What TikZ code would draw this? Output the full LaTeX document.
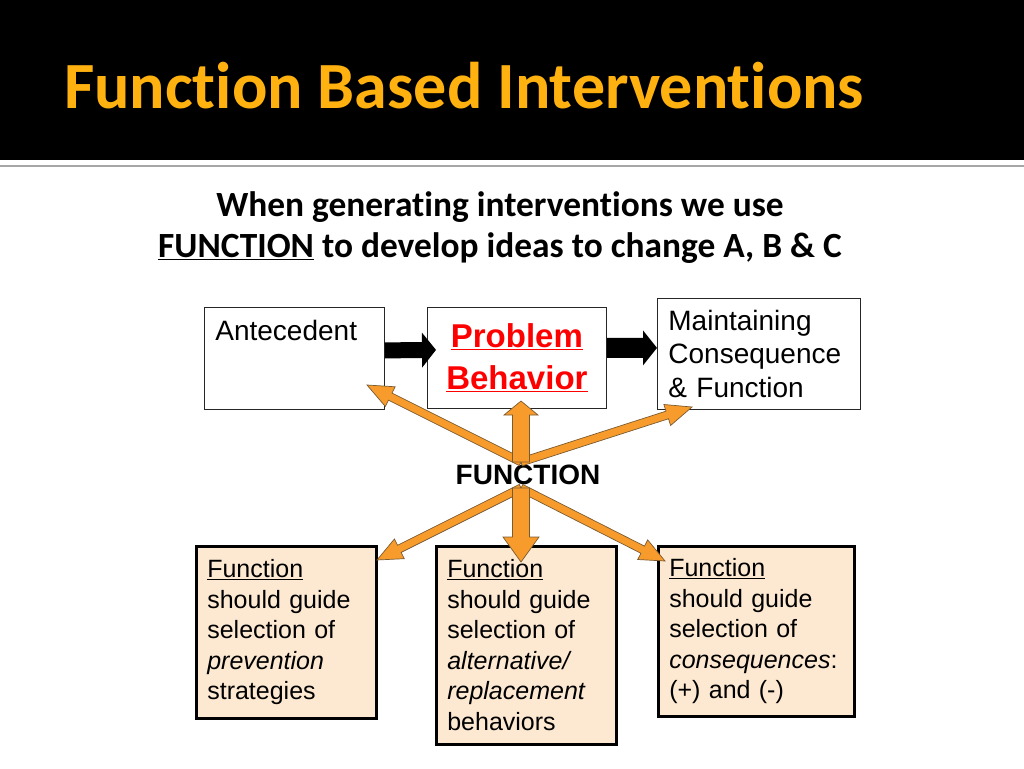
\documentclass[tikz,border=0pt]{standalone}
\usepackage{fontspec}
\setmainfont{Liberation Sans}
\newfontfamily\calibri[Ligatures=NoCommon]{Carlito}
\usetikzlibrary{calc}

\definecolor{titlegold}{HTML}{FFB20F}
\definecolor{fnorange}{HTML}{F79C2C}
\definecolor{fnedge}{HTML}{7A5A30}
\definecolor{peach}{HTML}{FDE9D2}

% block arrow: style, from, to, shaft half width, head half width, head length
\newcommand\blockarrow[6]{%
  \coordinate (ba-h) at ($(#3)!#6!(#2)$);
  \path[#1] ($(#2)!#4!90:(#3)$) -- ($(ba-h)!#4!-90:(#2)$) -- ($(ba-h)!#5!-90:(#2)$) -- (#3)
    -- ($(ba-h)!#5!90:(#2)$) -- ($(ba-h)!#4!90:(#2)$) -- ($(#2)!#4!-90:(#3)$) -- cycle;}

\begin{document}
\begin{tikzpicture}[x=1pt,y=-1pt,
  topbox/.style={draw=black!85,line width=0.8pt,anchor=north west,align=left,
    font=\fontsize{28}{33.5}\selectfont},
  guidebox/.style={draw=black,line width=2.6pt,fill=peach,anchor=north west,align=left,
    inner xsep=11pt,font=\fontsize{25}{30.5}\selectfont},
  orangearrow/.style={fill=fnorange,draw=fnedge,line width=0.7pt,line join=miter}]
  \useasboundingbox (0,0) rectangle (1024,768);
  % title band
  \fill[black] (0,0) rectangle (1024,160);
  \draw[gray!70,line width=2.5pt] (0,166) -- (1024,166);
  \node[anchor=base west,inner sep=0pt,text=titlegold,
    font=\calibri\bfseries\fontsize{66}{78}\selectfont] (title) at (64,108) {Function Based Interventions};
  \node[anchor=north,inner sep=0pt,align=center,
    font=\calibri\bfseries\fontsize{35.4}{41.5}\selectfont] (intro) at (500,191)
    {When generating interventions we use\\\underline{FUNCTION} to develop ideas to change A, B \& C};

  % A - B - C chain
  \node[topbox,text width=158pt,inner xsep=11pt,inner ysep=10pt,text height=23pt,text depth=59pt]
    (ante) at (204,307) {Antecedent};
  \node[topbox,align=center,text width=179pt,inner xsep=0pt,minimum height=101pt,text=red,
    font=\bfseries\fontsize{33}{42}\selectfont] (pb) at (427,307) {\underline{Problem}\\\underline{Behavior}};
  \node[topbox,text width=181pt,inner xsep=11pt,minimum height=111pt]
    (maint) at (657,298) {Maintaining\\Consequence\\\& Function};
  \coordinate (abstart) at ([yshift=8pt]ante.east);
  \coordinate (abend) at ([xshift=9pt,yshift=8pt]pb.west);
  \coordinate (bcstart) at ([yshift=10pt]pb.east);
  \coordinate (bcend) at (maint.west |- bcstart);
  \blockarrow{fill=black}{abstart}{abend}{8pt}{17.5pt}{14pt}
  \blockarrow{fill=black}{bcstart}{bcend}{10pt}{17.5pt}{14pt}

  \node[inner sep=0pt,font=\bfseries\fontsize{28}{33}\selectfont] (fn) at (528,475) {FUNCTION};

  % guide boxes
  \node[guidebox,text width=158pt,minimum height=172pt] (prev) at (195,545)
    {\underline{Function}\\should guide\\selection of\\\textit{prevention}\\strategies};
  \node[guidebox,text width=158pt,minimum height=198pt] (alt) at (435,545)
    {\underline{Function}\\should guide\\selection of\\\textit{alternative/}\\\textit{replacement}\\behaviors};
  \node[guidebox,text width=174pt,minimum height=170pt] (cons) at (657,545)
    {\underline{Function}\\should guide\\selection of\\\textit{consequences}:\\(+) and (-)};

  % function arrows
  \coordinate (hubtop) at (521,462);
  \coordinate (hubbot) at (521,488);
  \coordinate (tipante) at (367,385);
  \coordinate (tippb) at (521,401);
  \coordinate (tipmaint) at (692,407);
  \coordinate (tipprev) at (377,560);
  \coordinate (tipalt) at (521,562);
  \coordinate (tipcons) at (665,561);
  \blockarrow{orangearrow}{hubtop}{tipante}{4pt}{11pt}{26pt}
  \blockarrow{orangearrow}{hubtop}{tipmaint}{4pt}{11pt}{26pt}
  \blockarrow{orangearrow}{hubtop}{tippb}{8.5pt}{17pt}{14pt}
  \blockarrow{orangearrow}{hubbot}{tipprev}{4pt}{11pt}{25pt}
  \blockarrow{orangearrow}{hubbot}{tipcons}{4pt}{11pt}{25pt}
  \blockarrow{orangearrow}{hubbot}{tipalt}{8.5pt}{18pt}{25pt}
\end{tikzpicture}
\end{document}
